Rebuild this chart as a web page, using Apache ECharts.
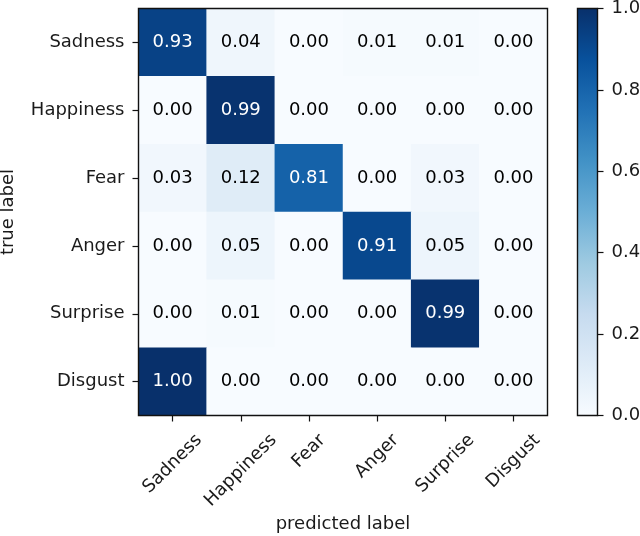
<!DOCTYPE html>
<html>
<head>
<meta charset="utf-8">
<script src="https://cdn.jsdelivr.net/npm/echarts@6/dist/echarts.min.js"></script>
<style>html,body{margin:0;padding:0;background:#fff}#c{width:640px;height:536px}</style>
</head>
<body>
<div id="c"></div>
<script>
// ---- data ----
const categories = ['Sadness', 'Happiness', 'Fear', 'Anger', 'Surprise', 'Disgust'];
const rowSadness   = [0.93, 0.04, 0.00, 0.01, 0.01, 0.00];
const rowHappiness = [0.00, 0.99, 0.00, 0.00, 0.00, 0.00];
const rowFear      = [0.03, 0.12, 0.81, 0.00, 0.03, 0.00];
const rowAnger     = [0.00, 0.05, 0.00, 0.91, 0.05, 0.00];
const rowSurprise  = [0.00, 0.01, 0.00, 0.00, 0.99, 0.00];
const rowDisgust   = [1.00, 0.00, 0.00, 0.00, 0.00, 0.00];
const colorbarTicks = [0.0, 0.2, 0.4, 0.6, 0.8, 1.0];
const xAxisTitle = 'predicted label';
const yAxisTitle = 'true label';

// ---- style ----
const FONT = 'DejaVu Sans';
const FS = 18;
const TXT = '#1a1a1a';
const BLUES = ['#f7fbff', '#deebf7', '#c6dbef', '#9ecae1', '#6baed6', '#4292c6', '#2171b5', '#08519c', '#08306b'];

const rows = [rowSadness, rowHappiness, rowFear, rowAnger, rowSurprise, rowDisgust];
const heatData = [];
rows.forEach((row, r) => row.forEach((v, c) => {
  heatData.push({
    value: [c, r, v],
    label: { color: v > 0.5 ? '#ffffff' : '#000000' }
  });
}));

// grid geometry
const G = { left: 138.5, top: 8.5, width: 409, height: 407 };
const CB = { left: 577.5, top: 8.5, width: 20, height: 407 };

// x label geometry (emulate matplotlib centred 45deg labels)
const cv = document.createElement('canvas').getContext('2d');
cv.font = FS + 'px "' + FONT + '"';
const H = FS;
const T = 431;          // top of rotated label bbox
const margin = -14;
const Ay = G.top + G.height + margin;
const S = (T - Ay) / Math.SQRT1_2;
const rich = {};
categories.forEach((name, i) => {
  const w = cv.measureText(name).width;
  const P = Math.max(0, (S - 0.5 * (w - H)) / 2);
  const Q = (S + 0.5 * (w - H)) / 2;
  rich['l' + i] = { fontFamily: FONT, fontSize: FS, color: TXT, padding: [Q, P, 0, 0] };
});

const gradStops = BLUES.map((c, i) => ({ offset: i / (BLUES.length - 1), color: c }));

const chart = echarts.init(document.getElementById('c'), null, { renderer: 'canvas' });
chart.setOption({
  animation: false,
  backgroundColor: '#ffffff',
  textStyle: { fontFamily: FONT },
  grid: [
    { left: G.left, top: G.top, width: G.width, height: G.height, show: true, z: 10,
      borderColor: '#111', borderWidth: 1.4, backgroundColor: 'transparent', outerBoundsMode: 'none' },
    { left: CB.left, top: CB.top, width: CB.width, height: CB.height, show: true, z: 10,
      borderColor: '#111', borderWidth: 1.4, backgroundColor: 'transparent', outerBoundsMode: 'none' }
  ],
  xAxis: [
    { type: 'category', gridIndex: 0, data: categories,
      name: xAxisTitle, nameLocation: 'middle', nameGap: 100, nameMoveOverlap: false,
      nameTextStyle: { fontFamily: FONT, fontSize: FS, color: TXT },
      axisLine: { show: false },
      axisTick: { show: true, alignWithLabel: true, length: 6, lineStyle: { color: '#111', width: 1.2 } },
      axisLabel: { interval: 0, rotate: 45, margin: margin, align: 'right', verticalAlign: 'top',
        hideOverlap: false,
        formatter: (v, i) => '{l' + i + '|' + v + '}', rich: rich },
      splitLine: { show: false } },
    { type: 'category', gridIndex: 1, data: ['cb'], show: false }
  ],
  yAxis: [
    { type: 'category', gridIndex: 0, data: categories, inverse: true,
      name: yAxisTitle, nameLocation: 'middle', nameGap: 121, nameMoveOverlap: false,
      nameTextStyle: { fontFamily: FONT, fontSize: FS, color: TXT },
      axisLine: { show: false },
      axisTick: { show: true, alignWithLabel: true, length: 6, lineStyle: { color: '#111', width: 1.2 } },
      axisLabel: { interval: 0, margin: 14, fontFamily: FONT, fontSize: FS, color: TXT },
      splitLine: { show: false } },
    { type: 'value', gridIndex: 1, position: 'right', min: 0, max: 1, interval: 0.2,
      axisLine: { show: false },
      axisTick: { show: true, length: 6, lineStyle: { color: '#111', width: 1.2 } },
      axisLabel: { margin: 14, fontFamily: FONT, fontSize: FS, color: TXT,
        formatter: v => colorbarTicks.includes(Math.round(v * 10) / 10) ? v.toFixed(1) : '' },
      splitLine: { show: false } }
  ],
  visualMap: {
    show: false, seriesIndex: 0, min: 0, max: 1, dimension: 2,
    inRange: { color: BLUES }
  },
  series: [
    { type: 'heatmap', xAxisIndex: 0, yAxisIndex: 0, data: heatData,
      label: { show: true, fontFamily: FONT, fontSize: FS, formatter: p => p.value[2].toFixed(2) },
      itemStyle: { borderWidth: 0 },
      emphasis: { disabled: true } },
    { type: 'bar', xAxisIndex: 1, yAxisIndex: 1, data: [colorbarTicks[colorbarTicks.length - 1]],
      barWidth: '100%', silent: true,
      itemStyle: { color: new echarts.graphic.LinearGradient(0, 1, 0, 0, gradStops) } }
  ]
});
</script>
</body>
</html>
